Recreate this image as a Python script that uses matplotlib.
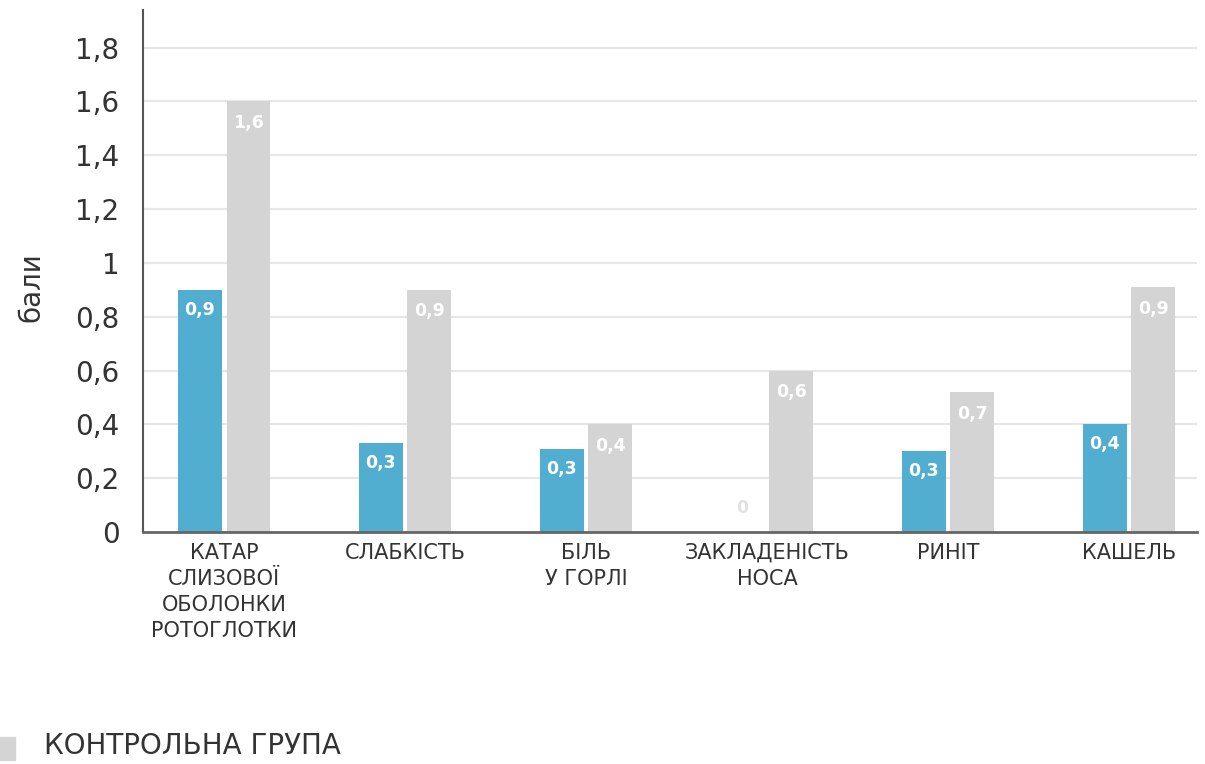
import matplotlib
matplotlib.use("Agg")
import matplotlib.pyplot as plt
from matplotlib.patches import Rectangle
import numpy as np

categories = ["КАТАР\nСЛИЗОВОЇ\nОБОЛОНКИ\nРОТОГЛОТКИ", "СЛАБКІСТЬ", "БІЛЬ\nУ ГОРЛІ",
              "ЗАКЛАДЕНІСТЬ\nНОСА", "РИНІТ", "КАШЕЛЬ"]
main_values = [0.9, 0.33, 0.31, 0.0, 0.3, 0.4]
main_labels = ["0,9", "0,3", "0,3", "0", "0,3", "0,4"]
control_values = [1.6, 0.9, 0.4, 0.6, 0.52, 0.91]
control_labels = ["1,6", "0,9", "0,4", "0,6", "0,7", "0,9"]
yticks = [0, 0.2, 0.4, 0.6, 0.8, 1.0, 1.2, 1.4, 1.6, 1.8]
ytick_labels = ["0", "0,2", "0,4", "0,6", "0,8", "1", "1,2", "1,4", "1,6", "1,8"]
legend_label = "КОНТРОЛЬНА ГРУПА"
ylabel = "бали"

BLUE = "#52AED1"
GRAY = "#D4D4D4"

plt.rcParams['font.family'] = ['DejaVu Sans']
W, H = 1205, 764
fig = plt.figure(figsize=(W / 100, H / 100), dpi=100)
ax = fig.add_axes([143 / W, 1 - 532 / H, (1197 - 143) / W, (532 - 10) / H])

x = np.arange(len(categories))
bw = 0.243
off = 0.135
ax.bar(x - off, main_values, bw, color=BLUE, zorder=3)
ax.bar(x + off, control_values, bw, color=GRAY, zorder=3)

for xi, v, lab in zip(x, main_values, main_labels):
    if v > 0:
        ax.annotate(lab, (xi - off, v), xytext=(0, -8), textcoords="offset points",
                    ha="center", va="top", color="white", fontsize=12.5, fontweight="bold", zorder=4)
    else:
        ax.annotate(lab, (xi - off, v), xytext=(0, 17), textcoords="offset points",
                    ha="center", va="center", color="#E2E2E2", fontsize=12.5, fontweight="bold", zorder=4)
for xi, v, lab in zip(x, control_values, control_labels):
    ax.annotate(lab, (xi + off, v), xytext=(0, -9), textcoords="offset points",
                ha="center", va="top", color="white", fontsize=12.5, fontweight="bold", zorder=4)

ax.set_xlim(-0.448, 5.376)
ax.set_ylim(0, 1.94)
ax.set_yticks(yticks)
ax.set_yticklabels(ytick_labels, fontsize=20, color="#333333")
ax.set_xticks(x)
ax.set_xticklabels(categories, fontsize=15, color="#333333", linespacing=1.38)
ax.tick_params(axis="y", length=0, pad=17)
ax.tick_params(axis="x", length=0, pad=8)

for yv in yticks[1:]:
    ax.axhline(yv, color="#E6E6E6", lw=1.6, zorder=1)

for s in ["top", "right"]:
    ax.spines[s].set_visible(False)
ax.spines["left"].set_color("#555555")
ax.spines["left"].set_linewidth(1.5)
ax.spines["bottom"].set_color("#666666")
ax.spines["bottom"].set_linewidth(2)
ax.spines["bottom"].set_zorder(5)

fig.text(31 / W, 1 - 287 / H, ylabel, rotation=90, ha="center", va="center",
         fontsize=20, color="#333333")

fig.patches.append(Rectangle((0, 1 - 760 / H), 15 / W, 23 / H, transform=fig.transFigure,
                             color=GRAY, zorder=3))
fig.text(44 / W, 1 - 746 / H, legend_label, ha="left", va="center", fontsize=20, color="#333333")

fig.savefig("out.png", dpi=100)
